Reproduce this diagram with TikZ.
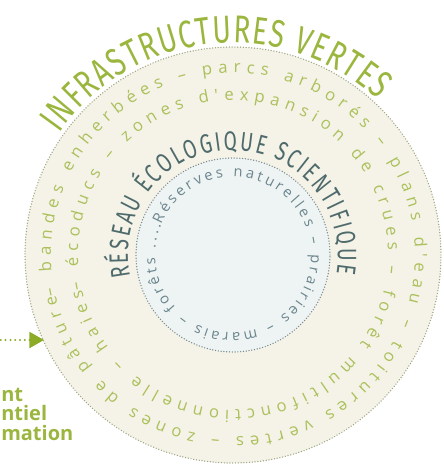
\documentclass[tikz,border=0pt]{standalone}
\usepackage{fontspec}
\setmainfont{Open Sans}
\newfontfamily\capsfont[FakeStretch=0.72]{Fira Sans}
\newfontfamily\ringfont{Open Sans}
\usetikzlibrary{decorations.text,arrows.meta}

\definecolor{bandfill}{RGB}{245,243,231}
\definecolor{corefill}{RGB}{238,244,243}
\definecolor{banddot}{RGB}{160,166,132}
\definecolor{coredot}{RGB}{122,138,144}
\definecolor{titlegreen}{RGB}{155,182,62}
\definecolor{ringgreen}{RGB}{172,192,92}
\definecolor{slatetext}{RGB}{78,106,108}
\definecolor{coretext}{RGB}{108,134,142}
\definecolor{arrowgreen}{RGB}{140,172,40}

\begin{document}
\begin{tikzpicture}[x=0.75pt,y=0.75pt,yscale=-1,xscale=1,
  dotring/.style={line width=1.1pt,line cap=round,dash pattern=on 0pt off 2.1pt},
  ringtext/.style={decorate,decoration={text along path,text align=fit to path,text={#1}}},
  notetext/.style={text=titlegreen,font=\bfseries\fontsize{15}{17}\selectfont,inner sep=0pt,anchor=base west},
  pointer/.style={draw=arrowgreen,line width=1.7pt,line cap=round,dash pattern=on 0pt off 3.6pt,-{Triangle[length=11pt,width=12pt]}}]
\useasboundingbox (0,0) rectangle (443,471);

\begin{scope}[shift={(233,255)},yscale=-1]
%Shape: Circle [outer band]
\fill[bandfill] (0,0) circle[radius=208];
\draw[dotring,draw=banddot] (0,0) circle[radius=208];
%Shape: Circle [core]
\fill[corefill] (0,0) circle[radius=97];
\draw[dotring,draw=coredot] (0,0) circle[radius=97];

% Arc Text
\path[ringtext={|\capsfont\fontsize{29}{29}\selectfont\color{titlegreen}|INFRASTRUCTURES VERTES}]
  (145:212) arc[start angle=145,end angle=47,radius=212];
% Arc Text
\path[ringtext={|\ringfont\fontsize{12.5}{12.5}\selectfont\color{ringgreen}|– bandes enherbées – parcs arborés – plans d'eau – toitures vertes – zones de pâture }]
  (193:182) arc[start angle=193,end angle=-167,radius=182];
% Arc Text
\path[ringtext={|\ringfont\fontsize{12.5}{12.5}\selectfont\color{ringgreen}|– écoducs – zones d'expansion de crues – forêt multifonctionnelle – haies }]
  (193:155) arc[start angle=193,end angle=-167,radius=155];
% Arc Text
\path[ringtext={|\capsfont\fontsize{20}{20}\selectfont\color{slatetext}|RÉSEAU ÉCOLOGIQUE SCIENTIFIQUE}]
  (192:105) arc[start angle=192,end angle=-10,radius=105];
% Arc Text
\path[ringtext={|\ringfont\fontsize{11}{11}\selectfont\color{coretext}|Réserves naturelles – prairies – marais – forêts .... }]
  (157:78) arc[start angle=157,end angle=-203,radius=78];
\end{scope}

% Pointer
\coordinate (arrowstart) at (-4,340);
\coordinate (arrowtip) at (44,340);
\draw[pointer] (arrowstart) -- (arrowtip);

% Text Node
\node[notetext] (noteA) at (1,401) {nt};
% Text Node
\node[notetext] (noteB) at (1,420) {ntiel};
% Text Node
\node[notetext] (noteC) at (1,440) {mation};

\end{tikzpicture}
\end{document}
